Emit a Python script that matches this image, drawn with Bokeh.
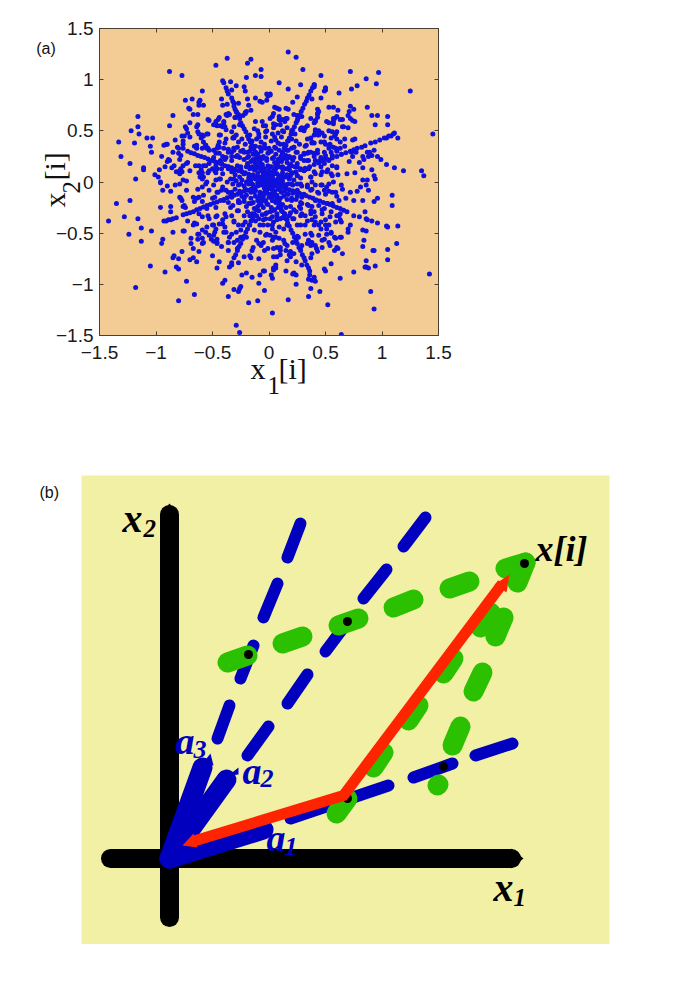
from math import pi
from bokeh.plotting import figure
from bokeh.layouts import column
from bokeh.models import Range1d, LinearAxis, FixedTicker
from bokeh.core.properties import value
from bokeh.embed import file_html
from bokeh.resources import INLINE

# ---------- panel (a): scatter values ----------
upper_left = [(-.37,1.21),(-.16,1.20),(-.19,1.16),(-.47,1.14),(-.07,1.10),(-.88,1.08),(-.77,1.04),(-.20,1.02),(-.12,1.04),(-.07,1.03),
(-.41,.99),(-.40,.97),(-.34,.98),(-.29,.94),(-.38,.92),(-.37,.89),(-.33,.90),(-.22,.93),(-.21,.89),(-.59,.89),(-.36,.86),(-.33,.82),(-.32,.79),(-.31,.77),
(-.42,.81),(-.41,.75),(-.37,.76),(-.27,.77),(-.18,.75),(-.19,.81),(-.12,.82),(-.08,.79),(-.06,.78),(-.02,.86),(-.01,.84),(-.02,.80),(-.74,.80),(-.68,.81),
(-.61,.80),(-.62,.78),(-.62,.75),(-.58,.75),(-.71,.72),(-.70,.71),(-.85,.65),(-1.16,.64),(-.67,.66),(-.63,.66),(-.38,.66),(-.35,.66),(-.29,.69),(-.27,.66),
(-.20,.69),(-.21,.67),(-.23,.65),(-.30,.63),(-.54,.61),(-.44,.63),(-.45,.61),(-.47,.59),(-.49,.56),(-.46,.55),(-.40,.58),(-.39,.54),(-.70,.58),(-.63,.56),
(-.64,.54),(-.88,.55),(-1.16,.54),(-1.22,.50),(-1.15,.47),(-.74,.54),(-.73,.52),(-.72,.48),(-.63,.49),(-.62,.47),(-.77,.45),(-.75,.45),(-.70,.44),(-.54,.47),
(-.58,.45),(-.60,.43),(-.44,.46),(-.32,.43),(-.31,.43),(-.29,.46),(-.38,.51),(-.31,.54),(-.26,.56),(-1.08,.43),(-1.03,.43),(-.83,.41),(-.76,.40),(-.76,.37),
(-.76,.33),(-1.33,.39),(-1.19,.38),(-1.05,.35),(-.91,.37),(-.90,.37),(-.93,.36),(-.58,.39),(-.56,.36),(-.59,.33),(-.54,.33),(-.53,.31),(-.64,.36),(-.66,.35),
(-.64,.33),(-.81,.34),(-.80,.33),(-.85,.29),(-.80,.28),(-.44,.39),(-.45,.36),(-.46,.33),(-.39,.38),(-.44,.34),(-.33,.29),(-.31,.31),(-.31,.33),(-.28,.34),
(-.36,.32),(-.36,.29),(-1.04,.29),(-1.31,.25),(-.95,.25),(-.78,.26),(-.79,.22),(-.89,.22),(-.88,.21),(-.90,.20),(-.72,.19),(-.73,.18),(-1.23,.18),(-.47,.28),
(-.41,.25),(-.39,.22),(-.33,.25),(-.29,.25),(-.23,.31),(-.25,.30),(-.19,.29),(-1.11,.14),(-1.11,.12),(-.84,.16),(-.86,.14),(-.92,.15),(-.97,.12),(-1.01,.07),
(-.98,.05),(-1.18,.03),(-.76,.16),(-.78,.13),(-.79,.11),(-.79,.08),(-.77,.10),(-.82,.10),(-.70,.11),(-.62,.16),(-.65,.16),(-.60,.12),(-.62,.09),(-.59,.09),
(-.61,.05),(-.58,.05),(-.54,.09),(-.56,.16),(-.53,.18),(-.50,.13),(-.48,.11),(-.47,.09),(-.47,.16),(-.42,.13),(-.42,.18),(-.36,.13),(-.33,.10),(-.44,.03),
(-.47,.02),(-.76,.02),(-.73,.01),(-.96,.00)]

upper_right = [(.17,1.27),(.24,1.22),(.30,1.10),(.72,1.08),(.97,1.07),(.46,1.04),(.86,1.01),(.95,.96),(.09,.97),(.28,.95),(.17,.91),(.40,.95),(.40,.93),
(.50,.92),(.50,.90),(.49,.89),(.73,.91),(.78,.94),(.62,.87),(1.25,.89),(.25,.83),(.38,.81),(.46,.82),(.21,.78),(.01,.86),(.01,.85),(.53,.73),(.57,.73),
(.72,.74),(.71,.69),(.75,.71),(.61,.70),(.87,.73),(.43,.71),(.44,.69),(.43,.66),(.05,.73),(.07,.72),(.09,.71),(.15,.72),(.17,.71),(.04,.67),(.03,.64),
(.25,.65),(.27,.64),(.29,.64),(.22,.66),(.70,.65),(.72,.62),(.74,.60),(.76,.59),(.91,.65),(.96,.65),(1.05,.64),(.94,.56),(1.05,.56),(.09,.64),(.09,.61),
(.12,.61),(.15,.62),(.14,.59),(.04,.57),(.06,.56),(.04,.53),(.10,.56),(.43,.63),(.41,.59),(.40,.58),(.58,.62),(.60,.64),(.57,.59),(.53,.58),(.57,.57),
(.63,.61),(.65,.61),(.66,.54),(.70,.53),(1.11,.48),(1.14,.43),(1.08,.45),(1.04,.43),(1.45,.47),(.32,.53),(.29,.53),(.28,.51),(.31,.50),(.41,.51),(.44,.50),
(.47,.48),(.43,.46),(.40,.46),(.49,.45),(.56,.49),(.58,.45),(.60,.49),(.65,.54),(.37,.43),(.38,.38),(.33,.36),(.46,.39),(.49,.39),(.40,.38),(.67,.42),
(.74,.41),(.76,.42),(.63,.39),(.67,.35),(.55,.43),(.53,.36),(.57,.34),(.59,.33),(.63,.33),(.64,.27),(.60,.30),(.87,.29),(.89,.29),(.93,.31),(.96,.25),
(.88,.25),(.91,.26),(.83,.25),(.84,.22),(.99,.22),(.80,.19),(.71,.20),(.73,.29),(.77,.29),(.74,.25),(1.04,.17),(1.11,.14),(1.19,.11),(1.35,.11),(1.37,.06),
(.83,.14),(.91,.12),(.76,.09),(.69,.08),(.60,.14),(.61,.07),(.93,.06),(.94,.03),(.83,.02),(.87,.02),(.31,.27),(.34,.28),(.37,.29),(.32,.35),(.40,.25),
(.43,.28),(.46,.23),(.50,.26),(.55,.29),(.53,.21),(.49,.18),(.44,.20),(.35,.21),(.31,.21),(.56,.16),(.52,.12),(.55,.08),(.47,.10),(.46,.07),(.40,.10),
(.37,.05),(.32,.12),(.28,.13),(.25,.18),(.21,.21),(.28,.25),(.24,.29),(.22,.34)]

lower_left = [(-1.35,-.21),(-1.23,-.18),(-1.42,-.38),(-1.28,-.34),(-1.16,-.36),(-1.13,-.45),(-1.24,-.51),(-1.13,-.58),(-1.04,-.48),(-1.18,-1.03),(-1.05,-.82),
(-.92,-.88),(-.80,-1.16),(-.66,-1.10),(-.73,-.97),(-.82,-.83),(-.80,-.85),(-.96,-.25),(-.87,-.24),(-.87,-.29),(-.85,-.49),(-.76,-.48),(-.75,-.48),(-.94,-.56),
(-.95,-.60),(-.77,-.68),(-.84,-.72),(-.85,-.74),(-.80,-.75),(-.70,-.76),(-.67,-.74),(-.64,-.78),(-.50,-.72),(-.44,-.78),(-.46,-.84),(-.69,-.55),(-.69,-.60),
(-.63,-.56),(-.67,-.65),(-.62,-.68),(-.62,-.51),(-.63,-.51),(-.59,-.47),(-.59,-.55),(-.59,-.60),(-.55,-.44),(-.53,-.52),(-.72,-.38),(-.66,-.40),(-.64,-.41),
(-.67,-.42),(-.51,-.56),(-.49,-.58),(-.46,-.59),(-.46,-.56),(-.42,-.63),(-.36,-.67),(-.36,-.59),(-.31,-.59),(-.28,-.65),(-.75,-.23),(-.76,-.24),(-.74,-.25),
(-.79,-.15),(-.78,-.16),(-.77,-.18),(-.96,-.01),(-.90,-.04),(-.94,-.08),(-.87,-.09),(-.83,-.03),(-.79,-.02),(-.73,-.08),(-.63,-.07),(-.59,-.05),(-.56,-.02),
(-.67,-.15),(-.64,-.16),(-.59,-.19),(-.66,-.19),(-.62,-.15),(-.41,-.05),(-.42,-.08),(-.45,-.10),(-.48,-.15),(-.36,-.10),(-.62,-.31),(-.54,-.33),(-.47,-.34),
(-.39,-.31),(-.44,-.41),(-.50,-.42),(-.47,-.46),(-.41,-.37),(-.48,-.49),(-.39,-.44),(-.38,-.49),(-.35,-.54),(-.29,-.49),(-.25,-.54),(-.20,-.54),(-.23,-.42),
(-.31,-.39),(-.33,-.33),(-.28,-.28),(-.32,-.23),(-.36,-.20),(-.26,-.20),(-.20,-.24),(-.17,-.33),(-.35,-.83),(-.33,-.81),(-.33,-.79),(-.27,-.79),(-.22,-.73),
(-.17,-.72),(-.16,-.74),(-.09,-.75),(-.24,-.91),(-.20,-.89),(-.15,-.93),(-.09,-.99),(-.05,-.87),(-.08,-.91),(-.04,-.87),(-.41,-.99),(-.39,-.96),(-.31,-1.05),
(-.27,-1.07),(-.25,-1.02),(-.26,-1.04),(-.36,-1.12),(-.18,-1.18),(-.10,-1.16),(-.04,-1.06),(-.29,-1.40),(-.26,-1.47),(-.14,-.64),(-.15,-.67),(-.09,-.60),
(-.07,-.62),(-.04,-.67),(-.01,-.65),(-.11,-.57),(-.03,-.52),(-.17,-.42),(-.08,-.42),(-.05,-.37),(-.01,-.42),(-.08,-.49),(-.13,-.47)]

lower_right = [(1.42,-.90),(1.09,-.13),(1.09,-.23),(1.14,-.43),(1.13,-.60),(1.04,-.43),(1.05,-.44),(1.05,-.66),(1.05,-.76),(.92,-.67),(.93,-.67),(.86,-.77),(.84,-.57),
(.83,-.63),(.85,-.83),(.86,-.83),(.88,-.84),(.94,-.82),(.75,-.88),(.63,-.94),(.90,-1.07),(.93,-1.24),(.64,-1.49),(.52,-1.20),(.45,-1.07),(.35,-1.12),(.17,-1.15),
(.03,-1.28),(.37,-1.04),(.24,-1.00),(.38,-.96),(.41,-.97),(.40,-.93),(.35,-.95),(.36,-.91),(.36,-.87),(.55,-.80),(.49,-.85),(.50,-.87),(.65,-.70),(.60,-.64),
(.61,-.65),(.58,-.67),(.15,-.87),(.21,-.90),(.24,-.91),(.22,-.89),(.02,-.91),(.03,-.94),(.04,-.86),(.06,-.84),(.06,-.81),(.04,-.84),(.16,-.77),(.19,-.73),(.24,-.78),
(.29,-.81),(.04,-.73),(.07,-.73),(.10,-.71),(.96,-.16),(.93,-.19),(.83,-.18),(.75,-.18),(.68,-.16),(.72,-.10),(.80,-.34),(.75,-.33),(.85,-.29),(.86,-.36),(.87,-.37),
(.91,-.38),(.96,-.40),(.83,-.47),(.86,-.48),(.72,-.42),(.70,-.46),(.70,-.49),(.64,-.54),(.63,-.54),(.58,-.54),(.53,-.59),(.47,-.57),(.49,-.56),(.42,-.65),(.43,-.68),
(.38,-.70),(.37,-.74),(.63,-.31),(.62,-.33),(.63,-.37),(.64,-.39),(.55,-.49),(.55,-.50),(.50,-.37),(.50,-.42),(.51,-.46),(.64,-.03),(.65,-.07),(.78,-.09),(.81,-.05),
(.86,-.03),(.88,-.08),(.60,-.14),(.53,-.09),(.56,-.10),(.49,-.08),(.44,-.11),(.38,-.07),(.34,-.05),(.37,-.08),(.53,-.02),(.47,-.03),(.41,-.03),(.52,-.21),(.55,-.29),
(.47,-.27),(.44,-.23),(.38,-.24),(.34,-.22),(.29,-.21),(.27,-.24),(.29,-.31),(.32,-.33),(.37,-.31),(.40,-.29),(.38,-.37),(.41,-.39),(.44,-.42),(.46,-.46),(.37,-.50),
(.38,-.52),(.32,-.42),(.35,-.57),(.38,-.59),(.34,-.60),(.37,-.62),(.29,-.62),(.25,-.53),(.21,-.59),(.16,-.62),(.14,-.60),(.13,-.57),(.09,-.55),(.06,-.54),(.03,-.57),
(.04,-.65),(.07,-.64),(.10,-.67),(.15,-.67),(.19,-.68),(.22,-.70),(.18,-.71),(.04,-.39),(.09,-.44),(.13,-.46),(.16,-.42),(.21,-.36),(.25,-.42),(.28,-.42),(.10,-.36),
(.07,-.31),(.18,-.33),(.24,-.29),(.03,-.46),(.06,-.49),(.01,-.52)]

centre = [(-.24,.42),(-.21,.37),(-.17,.46),(-.13,.52),(-.09,.47),(-.05,.55),(-.02,.50),(-.15,.40),(-.11,.42),(-.07,.39),(-.03,.44),(-.26,.24),(-.22,.22),(-.18,.25),(-.14,.27),
(-.11,.24),(-.07,.30),(-.03,.33),(-.16,.20),(-.12,.18),(-.08,.21),(-.05,.25),(-.01,.28),(-.20,.15),(-.17,.13),(-.13,.12),(-.09,.14),(-.06,.17),(-.02,.21),(-.28,.16),(-.25,.13),
(-.30,.07),(-.26,.05),(-.22,.08),(-.18,.04),(-.14,.07),(-.10,.09),(-.07,.11),(-.04,.13),(-.01,.16),(-.34,.03),(-.29,.01),(-.24,.02),(-.20,.00),(-.16,.02),(-.12,.03),(-.08,.05),
(-.05,.07),(-.02,.09),(-.11,.16),(-.15,.15),(-.19,.18),(-.14,.22),(-.10,.27),(-.06,.23),(-.17,.30),(-.12,.35),(-.08,.34),(-.04,.37),(.00,.33),(.02,.40),(.05,.44),(.08,.48),
(.12,.50),(.16,.53),(.20,.50),(.23,.47),(.02,.30),(.05,.34),(.08,.38),(.11,.44),(.13,.37),(.17,.40),(.20,.42),(.24,.40),(.27,.37),(.03,.23),(.06,.27),(.09,.31),(.12,.28),
(.10,.37),(.14,.33),(.17,.31),(.20,.33),(.15,.26),(.18,.25),(.22,.24),(.02,.15),(.05,.19),(.08,.22),(.11,.20),(.13,.23),(.16,.19),(.19,.17),(.23,.15),(.03,.10),(.06,.13),
(.09,.15),(.12,.15),(.15,.13),(.18,.12),(.21,.09),(.25,.06),(.28,.04),(.03,.05),(.06,.08),(.09,.06),(.12,.09),(.15,.05),(.18,.03),(.22,.02),(.02,.02),(.05,.01),(.09,.02),
(.12,.01),(-.32,-.02),(-.27,-.03),(-.22,-.04),(-.18,-.02),(-.14,-.03),(-.10,-.01),(-.06,-.02),(-.03,-.03),(-.30,-.07),(-.26,-.09),(-.21,-.07),(-.16,-.10),(-.12,-.08),(-.08,-.10),
(-.04,-.06),(-.01,-.05),(-.24,-.14),(-.20,-.13),(-.16,-.16),(-.12,-.14),(-.09,-.16),(-.05,-.14),(-.02,-.11),(-.27,-.18),(-.22,-.19),(-.18,-.21),(-.14,-.20),(-.07,-.22),(-.03,-.18),
(.00,-.15),(-.13,-.26),(-.09,-.28),(-.05,-.25),(-.01,-.22),(-.19,-.29),(-.15,-.31),(-.11,-.33),(-.06,-.32),(-.02,-.30),(-.12,-.38),(-.09,-.36),(-.03,-.36),(.02,-.02),(.05,-.04),
(.08,-.03),(.11,-.01),(.14,-.03),(.17,-.02),(.21,-.03),(.25,-.02),(.29,-.04),(.02,-.07),(.05,-.09),(.08,-.07),(.11,-.10),(.14,-.09),(.17,-.12),(.21,-.11),(.25,-.14),(.29,-.15),
(.01,-.12),(.04,-.14),(.07,-.13),(.10,-.16),(.13,-.14),(.16,-.17),(.20,-.18),(.24,-.17),(.03,-.18),(.06,-.20),(.09,-.19),(.12,-.22),(.15,-.25),(.19,-.24),(.22,-.27),(.02,-.25),
(.05,-.27),(.08,-.25),(.11,-.28),(.14,-.31),(.19,-.30),(.03,-.34),(.07,-.37),(.12,-.35),(.16,-.37),(.01,-.29),(-.03,.01),(-.06,.02),(.01,.04),(.00,.07),(.01,-.02),(-.02,-.01),
(.03,.00),(-.01,.02),(.00,-.04),(.04,.02),(-.04,.03),(.02,.08),(-.03,-.04),(.06,-.01),(.00,.11),(-.08,.01)]

middle = [(-.53,.60),(-.47,.57),(-.43,.55),(-.40,.59),(-.41,.54),(-.37,.65),(-.36,.67),(-.30,.63),(-.21,.68),(-.16,.70),(-.12,.59),(-.06,.59),(-.03,.55),(.01,.62),(.10,.60),(.16,.62),
(.25,.60),(.37,.62),(.43,.67),(.41,.60),(.51,.59),(.57,.62),(-.59,.46),(-.55,.47),(-.43,.46),(-.38,.42),(-.33,.49),(-.31,.44),(-.27,.39),(-.10,.50),(-.09,.44),(-.03,.49),(.03,.47),
(.06,.41),(.13,.49),(.18,.42),(.28,.52),(.34,.55),(.41,.49),(.44,.46),(.53,.50),(.59,.47),(.60,.42),(.34,.42),(.38,.39),(.50,.37),(.54,.37),(-.56,.36),(-.55,.33),(-.49,.31),(-.44,.28),
(-.40,.33),(-.36,.31),(-.31,.33),(-.28,.26),(-.22,.29),(-.43,.21),(-.38,.24),(-.33,.21),(-.49,.24),(.22,.34),(.25,.29),(.31,.28),(.35,.29),(.40,.28),(.43,.31),(.49,.29),(.53,.33),(.56,.26),
(.19,.24),(.28,.23),(.34,.21),(.41,.21),(.46,.24),(.50,.23),(-.58,.16),(-.53,.11),(-.46,.13),(-.41,.08),(-.36,.15),(-.31,.11),(-.25,.15),(-.22,.08),(.25,.15),(.31,.11),(.35,.13),(.41,.08),
(.46,.15),(.51,.10),(.56,.06),(.60,.15),(.20,.16),(.25,.06),(.37,.05),(-.59,.03),(-.55,.00),(-.49,-.03),(-.43,.03),(-.37,.00),(-.31,.03),(-.25,-.02),(-.19,.00),(-.53,-.08),(-.46,-.10),
(-.38,-.08),(-.33,-.10),(.28,-.02),(.34,-.03),(.38,.00),(.46,-.03),(.51,-.05),(.57,.00),(.25,-.08),(.31,-.12),(.43,-.10),(.50,-.12),(.59,-.10),(-.58,-.13),(-.50,-.16),(-.40,-.18),(-.33,-.15),
(-.27,-.20),(-.22,-.16),(-.16,-.21),(-.55,-.26),(-.47,-.25),(-.34,-.25),(-.27,-.28),(-.02,-.21),(.03,-.28),(.07,-.16),(.20,-.16),(.28,-.20),(.35,-.23),(.41,-.18),(.49,-.26),(.56,-.21),(.62,-.18),
(.01,-.15),(.28,-.26),(.37,-.28),(-.59,-.34),(-.53,-.36),(-.46,-.33),(-.38,-.34),(-.31,-.38),(-.22,-.33),(-.03,-.31),(.01,-.36),(.07,-.33),(.22,-.36),(.28,-.33),(.34,-.38),(.41,-.34),(.47,-.31),
(.54,-.34),(.60,-.33),(-.49,-.42),(-.41,-.41),(-.27,-.42),(-.21,-.39),(-.05,-.42),(.03,-.42),(.40,-.42),(.46,-.39),(.53,-.42),(.59,-.39),(-.56,-.49),(-.49,-.52),(-.40,-.49),(-.33,-.51),(-.25,-.47),
(-.58,-.59),(-.46,-.60),(-.36,-.59),(-.28,-.57),(-.02,-.51),(-.05,-.59),(.04,-.54),(.10,-.64),(.26,-.54),(.32,-.51),(.37,-.59),(.44,-.52),(.51,-.51),(.59,-.55),(.28,-.64),(.41,-.62),(.47,-.64),(.54,-.62),
(-.16,.34),(-.12,.29),(-.06,.33),(.00,.29),(.06,.33),(.12,.28),(.16,.31),(-.19,.24),(-.13,.21),(-.08,.24),(-.02,.23),(.04,.24),(.10,.21),(.16,.23),(-.18,.15),(-.12,.13),(-.06,.16),(.00,.15),(.06,.16),
(.12,.13),(.18,.15),(-.16,.06),(-.10,.05),(-.05,.08),(.01,.06),(.07,.08),(.13,.05),(.19,.06),(-.15,-.02),(-.09,-.03),(-.03,.00),(.03,-.02),(.09,.00),(.15,-.03),(.20,-.02),(-.13,-.10),(-.08,-.12),(-.02,-.08),
(.04,-.10),(.10,-.08),(.16,-.12),(-.10,-.18),(-.05,-.18),(.03,-.18)]

ray_ne = [(.40,.95),(.385,.92),(.37,.89),(.355,.85),(.34,.82),(.33,.79),(.315,.76),(.30,.72),(.285,.69),(.27,.65),(.255,.62),(.24,.58),(.225,.54),(.21,.51),(.195,.47),(.18,.43),
(.165,.40),(.15,.36),(.135,.33),(.12,.29),(.105,.25),(.09,.22),(.075,.18),(.06,.14),(.045,.11),(.03,.07),(.015,.04)]
ray_sw = [(-.31,-.74),(-.295,-.71),(-.28,-.67),(-.265,-.63),(-.25,-.60),(-.235,-.56),(-.22,-.53),(-.205,-.49),(-.19,-.46),(-.175,-.42),(-.16,-.38),(-.145,-.35),(-.13,-.31),(-.115,-.27),
(-.10,-.24),(-.085,-.20),(-.07,-.17),(-.055,-.13),(-.04,-.10),(-.025,-.06)]
ray_ene = [(1.10,.47),(1.06,.45),(1.02,.43),(.98,.41),(.94,.39),(.90,.38),(.85,.355),(.82,.34),(.78,.33),(.75,.315),(.72,.30),(.68,.285),(.64,.27),(.60,.25),(.56,.235),(.52,.22),(.48,.20),
(.44,.185),(.40,.17),(.36,.15),(.32,.135),(.28,.12),(.24,.10),(.20,.085),(.16,.07),(.12,.05),(.08,.035),(.04,.02)]
ray_wsw = [(-.93,-.38),(-.91,-.38),(-.89,-.37),(-.87,-.37),(-.85,-.36),(-.82,-.35),(-.76,-.32),(-.73,-.31),(-.70,-.30),(-.67,-.29),(-.64,-.27),(-.61,-.26),(-.58,-.245),(-.55,-.23),(-.52,-.22),
(-.49,-.205),(-.46,-.195),(-.43,-.18),(-.40,-.17),(-.37,-.155),(-.34,-.14),(-.31,-.13),(-.28,-.12),(-.25,-.105),(-.22,-.09),(-.19,-.08),(-.16,-.07),(-.13,-.055),(-.10,-.04),(-.07,-.03),(-.04,-.02)]
ray_nw = [(-.31,.74),(-.30,.71),(-.285,.68),(-.27,.65),(-.26,.62),(-.25,.58),(-.235,.55),(-.22,.52),(-.205,.49),(-.19,.45),(-.18,.42),(-.165,.39),(-.15,.36),(-.135,.32),(-.12,.29),(-.105,.25),
(-.09,.21),(-.075,.18),(-.06,.14),(-.045,.11),(-.03,.07),(-.015,.04)]
ray_se = [(.35,-.84),(.335,-.81),(.32,-.77),(.31,-.74),(.295,-.71),(.28,-.67),(.265,-.64),(.25,-.60),(.24,-.57),(.225,-.54),(.21,-.50),(.195,-.47),(.18,-.43),(.165,-.40),(.15,-.36),(.135,-.33),
(.12,-.29),(.105,-.25),(.09,-.22),(.075,-.18),(.06,-.14),(.045,-.11),(.03,-.07),(.015,-.04)]
ray_wnw = [(-.72,.30),(-.69,.285),(-.66,.275),(-.63,.26),(-.60,.25),(-.57,.24),(-.54,.225),(-.51,.21),(-.48,.20),(-.45,.19),(-.42,.175),(-.39,.16),(-.36,.15),(-.33,.14),(-.30,.125),(-.27,.11),
(-.24,.10),(-.21,.09),(-.18,.075),(-.15,.06),(-.12,.05),(-.09,.04),(-.06,.025),(-.03,.01)]
ray_ese = [(.69,-.29),(.66,-.275),(.63,-.26),(.60,-.25),(.57,-.235),(.54,-.22),(.51,-.21),(.48,-.20),(.45,-.185),(.42,-.175),(.39,-.16),(.36,-.15),(.33,-.135),(.30,-.125),(.27,-.11),(.24,-.10),
(.21,-.085),(.18,-.075),(.15,-.06),(.12,-.05),(.09,-.035),(.06,-.025),(.03,-.01)]

ticks_a = [-1.5, -1, -0.5, 0, 0.5, 1, 1.5]
tick_labels_a = {-1.5: "\u22121.5", -1: "\u22121", -0.5: "\u22120.5", 0: "0", 0.5: "0.5", 1: "1", 1.5: "1.5"}

# ---------- panel (b): schematic, in the diagram's own units ----------
axis_h_x, axis_h_y = [-58, 343], [1, 1]
axis_v_x, axis_v_y = [1, 1], [-58, 345]
axis_tip_xs = [[343, 343, 355], [-8, 10, 1]]
axis_tip_ys = [[-9, 11, 1], [345, 345, 356]]

basis_xs = [[1, 95], [1, 58], [1, 34]]
basis_ys = [[1, 30], [1, 80], [1, 92]]
basis_tip_xs = [[34, 45, 42], [60, 70, 70]]
basis_tip_ys = [[96, 94, 106], [84, 85, 92]]

blue_xs = [[122,220],[245,284],[307,344],
           [49,61],[72,85],[95,109],[119,132],
           [79,100],[119,139],[157,175],[195,218],[235,257]]
blue_ys = [[41,74],[82,96],[104,116],
           [121,154],[181,214],[242,276],[302,336],
           [104,133],[156,185],[208,232],[261,290],[313,342]]

green_xs = [[59,79],[114,134],[170,190],[225,245],[281,301],[337,357],
            [349,357],[327,335],[305,314],[284,292],[269,270],
            [168,179],[205,215],[240,250],[275,285],[312,322]]
green_ys = [[197,204],[216,223],[234,241],[252,260],[271,278],[291,297],
            [277,297],[223,242],[168,187],[114,133],[74,75],
            [46,61],[92,107],[139,154],[186,201],[232,247]]

dots_x = [179, 275, 179, 80, 356]
dots_y = [61, 93, 238, 205, 296]

red_x = [24, 175, 334]
red_y = [18, 64, 276]
red_tip_xs = [[14, 29, 25], [341, 326, 338]]
red_tip_ys = [[14, 12, 26], [285, 275, 267]]

BLUE, GREEN, RED = "#0000BE", "#2BC000", "#FF2400"
SERIF = "Liberation Serif"
SANS = "Liberation Sans"

def lab(fig, x, y, t, size, font=SERIF, style="normal", color="#111111", angle=0):
    # the svg backend draws "alphabetic" text low by about 0.29 em: correct along the text's normal
    shift = 0.29 * size
    xo, yo = (-shift, 0) if angle else (0, -shift)
    fig.text([x], [y], text=[t], text_font=value(font), text_font_size=value(f"{size}px"),
             text_font_style=style, text_color=color, angle=angle, text_align="left",
             text_baseline="alphabetic", x_offset=xo, y_offset=yo, level="overlay")

# ---------- panel (a) ----------
pa = figure(width=677, height=475, x_range=Range1d(-1.5, 1.5), y_range=Range1d(-1.5, 1.5),
            frame_width=339, frame_height=307, min_border_left=99, min_border_right=239,
            min_border_top=28, min_border_bottom=140, output_backend="svg", toolbar_location=None,
            background_fill_color="#F2CC94", border_fill_color="white")
pa.grid.visible = False
pa.outline_line_color = "#4A4030"
for ax in (pa.xaxis[0], pa.yaxis[0]):
    ax.ticker = FixedTicker(ticks=ticks_a)
    ax.major_label_overrides = tick_labels_a
    ax.major_label_text_font = SANS
    ax.major_label_text_font_size = "19px"
    ax.major_label_text_color = "#1a1a1a"
    ax.major_tick_in = 4
    ax.major_tick_out = 0
    ax.minor_tick_line_color = None
    ax.axis_line_color = "#4A4030"
    ax.major_tick_line_color = "#4A4030"
pa.xaxis[0].major_label_standoff = 10
pa.yaxis[0].major_label_standoff = 6
for side in ("above", "right"):
    extra = LinearAxis(ticker=FixedTicker(ticks=ticks_a), major_label_text_font_size="0px",
                       major_label_text_color=None, major_tick_in=4, major_tick_out=0,
                       minor_tick_line_color=None, axis_line_color="#4A4030",
                       major_tick_line_color="#4A4030", major_label_standoff=0)
    pa.add_layout(extra, side)

all_points = (upper_left + upper_right + lower_left + lower_right + centre + middle +
              ray_ne + ray_sw + ray_ene + ray_wsw + ray_nw + ray_se + ray_wnw + ray_ese)
x1 = [pt[0] for pt in all_points]
x2 = [pt[1] for pt in all_points]
pa.scatter(x1, x2, size=5, color="#1010DC", line_color=None)

lab(pa, -2.06, 1.256, "(a)", 16, font=SANS)
lab(pa, -0.164, -1.911, "x", 30)
lab(pa, -0.013, -2.058, "1", 25)
lab(pa, 0.084, -1.911, "[i]", 30)
lab(pa, -1.819, -0.249, "x", 30, angle=pi/2)
lab(pa, -1.686, -0.112, "2", 25, angle=pi/2)
lab(pa, -1.819, 0.015, "[i]", 30, angle=pi/2)

# ---------- panel (b) ----------
pb = figure(width=677, height=469, x_range=Range1d(-87, 441), y_range=Range1d(-85, 384),
            frame_width=528, frame_height=469, min_border_left=81, min_border_right=68,
            min_border_top=0, min_border_bottom=0, output_backend="svg", toolbar_location=None,
            background_fill_color="#F2F0A5", border_fill_color="white", outline_line_color=None)
pb.axis.visible = False
pb.grid.visible = False

pb.line(axis_h_x, axis_h_y, line_width=19, line_color="black", line_cap="round")
pb.line(axis_v_x, axis_v_y, line_width=19, line_color="black", line_cap="round")
pb.patches(axis_tip_xs, axis_tip_ys, fill_color="black", line_color=None)
pb.multi_line(blue_xs, blue_ys, line_width=12, line_color=BLUE, line_cap="round")
pb.multi_line(green_xs, green_ys, line_width=20, line_color=GREEN, line_cap="round")
pb.multi_line(basis_xs, basis_ys, line_width=20, line_color=BLUE, line_cap="round")
pb.patches(basis_tip_xs, basis_tip_ys, fill_color=BLUE, line_color=None)
pb.scatter(dots_x, dots_y, size=9, color="black", line_color=None)
pb.line(red_x, red_y, line_width=11, line_color=RED, line_join="miter", line_cap="butt")
pb.patches(red_tip_xs, red_tip_ys, fill_color=RED, line_color=None)

BI = "bold italic"
lab(pb, -46, 329, "x", 40, style=BI, color="black")
lab(pb, -25, 324, "2", 25, style=BI, color="black")
lab(pb, 7, 107, "a", 38, style=BI, color=BLUE)
lab(pb, 25, 102, "3", 26, style=BI, color=BLUE)
lab(pb, 74, 77, "a", 38, style=BI, color=BLUE)
lab(pb, 92, 73, "2", 26, style=BI, color=BLUE)
lab(pb, 98, 10, "a", 38, style=BI, color=BLUE)
lab(pb, 116, 5, "1", 26, style=BI, color=BLUE)
lab(pb, 325, -40, "x", 40, style=BI, color="black")
lab(pb, 345, -45, "1", 25, style=BI, color="black")
lab(pb, 367, 300, "x[i]", 36, style=BI, color="black")
lab(pb, -129, 362, "(b)", 16, font=SANS)

page = column(column(pa), column(pb), spacing=0)
open("out.html", "w").write(file_html(page, INLINE))
